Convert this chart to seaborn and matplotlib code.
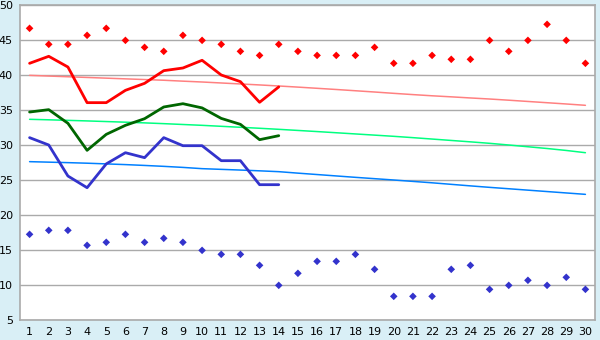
import numpy as np
import pandas as pd
import matplotlib
matplotlib.use("Agg")
import matplotlib.pyplot as plt
import seaborn as sns

days = list(range(1, 31))

# daily highs / lows (markers)
max_points = [46.67, 44.38, 44.38, 45.67, 46.67, 44.95, 43.95, 43.38, 45.67, 44.95,
              44.38, 43.38, 42.8, 44.38, 43.38, 42.8, 42.8, 42.8, 43.95, 41.67,
              41.67, 42.8, 42.24, 42.24, 44.95, 43.38, 44.95, 47.24, 44.95, 41.67]
min_points = [17.24, 17.81, 17.81, 15.67, 16.1, 17.24, 16.1, 16.67, 16.1, 14.95,
              14.38, 14.38, 12.81, 9.95, 11.67, 13.38, 13.38, 14.38, 12.24, 8.38,
              8.38, 8.38, 12.24, 12.81, 9.38, 9.95, 10.67, 9.95, 11.1, 9.38]

# measured lines (first 14 days)
line_days = days[:14]
high_line = [41.67, 42.67, 41.14, 36.05, 36.05, 37.81, 38.81, 40.62, 41.0, 42.1,
             40.0, 39.05, 36.1, 38.3]
mean_line = [34.71, 35.05, 33.1, 29.24, 31.52, 32.81, 33.76, 35.43, 35.9, 35.3,
             33.8, 32.95, 30.76, 31.33]
low_line = [31.05, 30.0, 25.57, 23.9, 27.3, 28.9, 28.19, 31.05, 29.9, 29.9,
            27.76, 27.76, 24.33, 24.33]

# normals
high_norm = [39.95, 39.85, 39.75, 39.65, 39.55, 39.45, 39.35, 39.25, 39.12, 39.0,
             38.86, 38.72, 38.58, 38.43, 38.27, 38.1, 37.93, 37.75, 37.57, 37.38,
             37.2, 37.03, 36.88, 36.72, 36.57, 36.4, 36.22, 36.04, 35.86, 35.67]
mean_norm = [33.67, 33.6, 33.52, 33.44, 33.35, 33.26, 33.16, 33.05, 32.93, 32.81,
             32.67, 32.53, 32.39, 32.24, 32.08, 31.92, 31.75, 31.58, 31.41, 31.24,
             31.05, 30.85, 30.65, 30.45, 30.24, 30.0, 29.75, 29.5, 29.22, 28.9]
low_norm = [27.62, 27.55, 27.48, 27.4, 27.3, 27.2, 27.08, 26.95, 26.8, 26.62,
            26.52, 26.42, 26.31, 26.19, 25.98, 25.78, 25.58, 25.38, 25.19, 25.0,
            24.8, 24.6, 24.38, 24.16, 23.95, 23.75, 23.55, 23.35, 23.15, 22.95]

y_ticks = [5, 10, 15, 20, 25, 30, 35, 40, 45, 50]

sns.set_style("white")
plt.rcParams['font.family'] = ['DejaVu Sans']

fig = plt.figure(figsize=(6, 3.4), dpi=100, facecolor="#D9EFF6")
ax = fig.add_axes([20 / 600, 20 / 340, 575 / 600, 315 / 340])
ax.set_facecolor("white")

for vals, col in [(high_norm, "#FF8080"), (mean_norm, "#00FF80"), (low_norm, "#0080FF")]:
    sns.lineplot(x=days, y=vals, color=col, linewidth=1.1, ax=ax)

for vals, col in [(high_line, "#FF0000"), (mean_line, "#006600"), (low_line, "#3333CC")]:
    sns.lineplot(x=line_days, y=vals, color=col, linewidth=2.0, ax=ax)

sns.scatterplot(x=days, y=max_points, color="#FF0000", marker="D", s=15,
                edgecolor="none", ax=ax)
sns.scatterplot(x=days, y=min_points, color="#3333CC", marker="D", s=15,
                edgecolor="none", ax=ax)

ax.set_xlim(0.5, 30.5)
ax.set_ylim(5, 50)
ax.set_xticks(days)
ax.set_yticks(y_ticks)
ax.yaxis.grid(True, color="#AAAAAA", linewidth=1)
ax.set_axisbelow(True)
for s in ax.spines.values():
    s.set_color("#AAAAAA")
    s.set_linewidth(1.2)
ax.tick_params(axis="both", direction="out", length=4, width=1, color="#333333",
               labelsize=8, labelcolor="black", pad=1)
ax.set_xlabel("")
ax.set_ylabel("")

fig.savefig("out.png", dpi=100, facecolor=fig.get_facecolor())
